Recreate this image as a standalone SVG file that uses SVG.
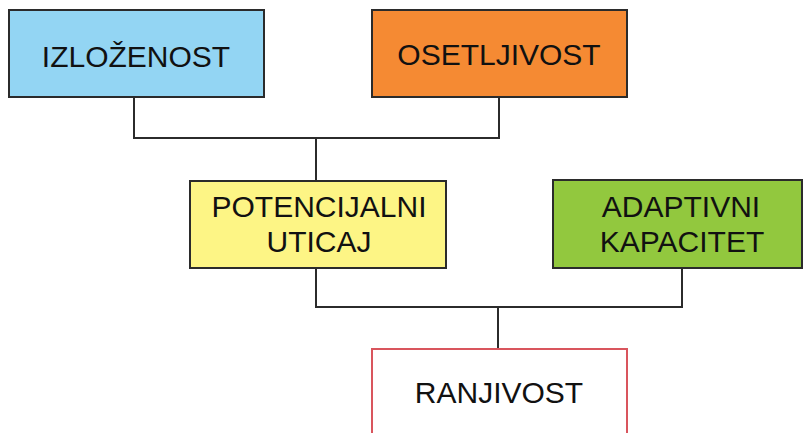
<svg xmlns="http://www.w3.org/2000/svg" width="803" height="433" viewBox="0 0 803 433">
  <style>
    .box { stroke: #2b2b2b; stroke-width: 2; }
    .lbl { font-family: "Liberation Sans", Arial, sans-serif; font-size: 30px; fill: #111; text-anchor: middle; }
    .wire { fill: none; stroke: #2b2b2b; stroke-width: 2; }
  </style>
  <rect width="803" height="433" fill="#ffffff"/>

  <g id="connectors">
    <path class="wire" d="M134,97 V138 H499 V97"/>
    <path class="wire" d="M316,138 V181"/>
    <path class="wire" d="M316,268 V307 H682 V268"/>
    <path class="wire" d="M498,307 V349"/>
  </g>

  <g id="izlozenost">
    <rect class="box" x="9" y="10" width="255" height="87" fill="#93d5f3"/>
    <text class="lbl" x="136" y="67">IZLOŽENOST</text>
  </g>

  <g id="osetljivost">
    <rect class="box" x="372" y="10" width="255" height="87" fill="#f58a33"/>
    <text class="lbl" x="499" y="65">OSETLJIVOST</text>
  </g>

  <g id="potencijalni-uticaj">
    <rect class="box" x="190" y="181" width="256" height="87" fill="#fdf585"/>
    <text class="lbl" x="319" y="217">POTENCIJALNI</text>
    <text class="lbl" x="319" y="252">UTICAJ</text>
  </g>

  <g id="adaptivni-kapacitet">
    <rect class="box" x="553" y="180" width="249" height="88" fill="#92c83e"/>
    <text class="lbl" x="681" y="217">ADAPTIVNI</text>
    <text class="lbl" x="682" y="252">KAPACITET</text>
  </g>

  <g id="ranjivost">
    <rect x="372" y="349" width="255" height="100" fill="#ffffff" stroke="#d9555d" stroke-width="2"/>
    <text class="lbl" x="499" y="403">RANJIVOST</text>
  </g>
</svg>
